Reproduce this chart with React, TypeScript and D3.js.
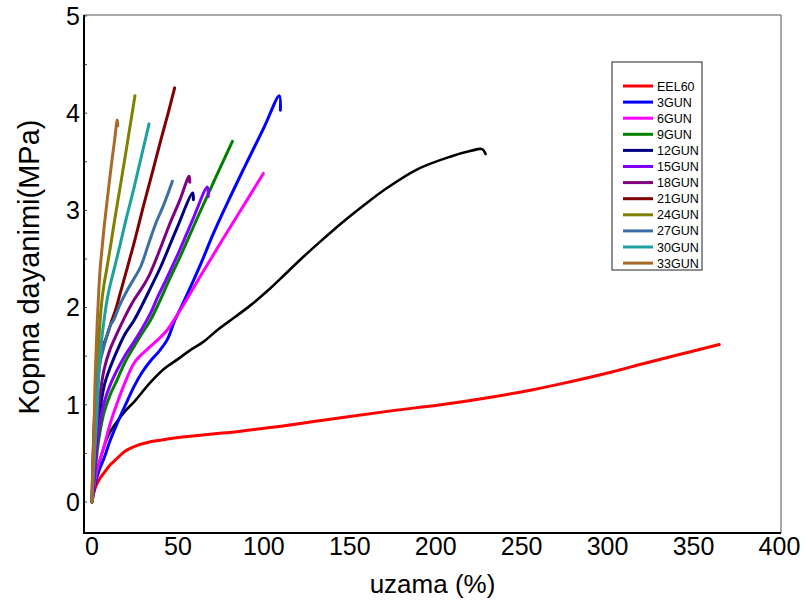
import React from "react";
import * as d3 from "d3";

type Pt = [number, number];

const xTicks = [0, 50, 100, 150, 200, 250, 300, 350, 400];
const yTicks = [0, 1, 2, 3, 4, 5];
const xTitle = "uzama (%)";
const yTitle = "Kopma dayanimi(MPa)";

const controlSeries: Pt[] = [[0,0],[0.8,0.1],[2.1,0.2],[4,0.38],[7,0.57],[10.5,0.72],[14.7,0.83],[19,0.93],[24.5,1.03],[34,1.23],[42,1.37],[50,1.47],[57,1.56],[65,1.65],[73,1.77],[83,1.9],[92,2.02],[102,2.17],[111,2.32],[121,2.49],[131,2.65],[146,2.88],[158,3.05],[170,3.21],[189,3.42],[208,3.55],[220,3.61],[227,3.63],[229,3.58]];

const eel60: Pt[] = [[0,0],[0.8,0.08],[2.2,0.16],[4.5,0.24],[7,0.3],[10.5,0.38],[14.7,0.45],[19,0.52],[24.5,0.57],[34,0.62],[45,0.65],[54,0.67],[70,0.7],[83,0.72],[92,0.74],[110,0.78],[130,0.83],[150,0.88],[175,0.94],[203,1.0],[233,1.08],[255,1.15],[274,1.22],[303,1.34],[320,1.42],[340,1.51],[365,1.62]];
const gun3: Pt[] = [[0,0],[0.8,0.08],[2,0.2],[4,0.32],[7,0.45],[10.5,0.63],[14.7,0.81],[19,0.98],[24.5,1.19],[29,1.33],[34,1.45],[39,1.55],[43.8,1.67],[48,1.86],[53.4,2.06],[63.3,2.45],[70.6,2.76],[79.4,3.1],[90,3.49],[100,3.85],[109,4.18],[109.6,4.03]];
const gun6: Pt[] = [[0,0],[0.8,0.1],[2,0.25],[4,0.4],[7,0.57],[10.5,0.8],[14.7,1.02],[19,1.22],[24.5,1.43],[29,1.52],[34,1.6],[39,1.68],[43.8,1.77],[48,1.88],[53.6,2.04],[64,2.35],[76,2.7],[90,3.1],[99.7,3.38]];
const gun9: Pt[] = [[0,0],[0.8,0.15],[2,0.35],[4,0.65],[7,0.92],[10.5,1.1],[14.7,1.26],[19,1.43],[24.5,1.6],[29,1.73],[34,1.87],[39,2.05],[44.8,2.28],[51.2,2.52],[62,2.95],[72,3.34],[81.7,3.71]];
const gun12: Pt[] = [[0,0],[0.8,0.2],[2,0.45],[4,0.85],[7,1.19],[10.5,1.38],[14.7,1.56],[19,1.72],[24.5,1.87],[29,2.02],[34,2.2],[40,2.42],[49,2.8],[58.6,3.18],[59,3.11]];
const gun15: Pt[] = [[0,0],[0.8,0.18],[2,0.4],[4,0.75],[7,1.02],[10.5,1.2],[14.7,1.36],[19,1.5],[24.5,1.65],[29,1.78],[34,1.94],[38,2.1],[42.9,2.28],[50,2.55],[58,2.88],[67.1,3.24],[67.6,3.14]];
const gun18: Pt[] = [[0,0],[0.8,0.25],[2,0.55],[4,1.0],[7,1.36],[10.5,1.57],[14.7,1.74],[19,1.9],[24.5,2.08],[29,2.2],[33.5,2.34],[40,2.62],[45,2.85],[51,3.1],[56.5,3.35],[56.9,3.29]];
const gun21: Pt[] = [[0,0],[0.5,0.4],[1.5,0.9],[3.1,1.29],[5,1.53],[7,1.63],[8.9,1.72],[11,1.84],[13.8,1.98],[16,2.12],[19.6,2.35],[25,2.7],[30,3.05],[35,3.38],[40,3.72],[44,3.98],[48.1,4.26]];
const gun24: Pt[] = [[0,0],[0.5,0.25],[1.5,0.6],[2.7,1.19],[4.1,1.7],[5,1.93],[6,2.11],[7.2,2.26],[8.5,2.39],[10.5,2.6],[13,2.88],[16,3.2],[19,3.52],[22,3.85],[25,4.18]];
const gun27: Pt[] = [[0,0],[0.5,0.35],[1.5,0.8],[3.1,1.19],[5,1.46],[7,1.6],[8.9,1.72],[10.8,1.82],[12.8,1.88],[16,2.02],[20.6,2.18],[24.5,2.3],[28.3,2.42],[33,2.66],[37,2.86],[42,3.07],[46.8,3.3]];
const gun30: Pt[] = [[0,0],[0.5,0.2],[1.5,0.5],[2.7,0.84],[4.1,1.36],[5.5,1.65],[7,1.87],[8.5,2.05],[9.9,2.18],[12.8,2.39],[16,2.62],[20,2.92],[24,3.2],[28,3.5],[33.2,3.89]];
const gun33: Pt[] = [[0,0],[0.3,0.25],[1,0.6],[1.7,1.19],[2.4,1.55],[3.1,1.87],[3.9,2.15],[4.7,2.39],[5.8,2.6],[7,2.82],[8.5,3.05],[10,3.28],[11.5,3.5],[13,3.7],[14.7,3.93],[15.0,3.87]];

const seriesNames = ["EEL60","3GUN","6GUN","9GUN","12GUN","15GUN","18GUN","21GUN","24GUN","27GUN","30GUN","33GUN"];
const seriesData = [eel60, gun3, gun6, gun9, gun12, gun15, gun18, gun21, gun24, gun27, gun30, gun33];
const seriesColors = ["#FF0000","#0000FF","#FF00FF","#008000","#000080","#8000FF","#800080","#800000","#808000","#3A6EA5","#1FA0A0","#A86A28"];

export default function App() {
  const W = 808, H = 607;
  const left = 84, right = 781, top = 15, bottom = 533;
  const x = d3.scaleLinear().domain([-4.65, 400.9]).range([left, right]);
  const y = d3.scaleLinear().domain([-0.319, 5.01]).range([bottom, top]);
  const line = d3.line<Pt>().x(d => x(d[0])).y(d => y(d[1])).curve(d3.curveCatmullRom.alpha(0.5));
  const font = "'Liberation Sans', Arial, sans-serif";
  const legX = 612, legY = 62, legW = 90, legH = 208;
  const legRow0 = 86, legStep = 16.1;
  const minorY = d3.range(0, 5.01, 0.5);

  return (
    <svg width={W} height={H} style={{ position: "absolute", left: 0, top: 0, background: "#fff" }} fontFamily={font}>
      <rect x={0} y={0} width={W} height={H} fill="#fff" />
      <line x1={left} y1={top} x2={right} y2={top} stroke="#555" strokeWidth={1} />
      <line x1={right} y1={top} x2={right} y2={bottom} stroke="#555" strokeWidth={1} />
      {minorY.map((v, i) => (
        <line key={"my" + i} x1={left} x2={left + 3} y1={y(v)} y2={y(v)} stroke="#444" strokeWidth={1} />
      ))}
      <path d={line(controlSeries) || ""} fill="none" stroke="#000" strokeWidth={2.6} strokeLinejoin="round" strokeLinecap="round" />
      {seriesData.map((s, i) => (
        <path key={seriesNames[i]} d={line(s) || ""} fill="none" stroke={seriesColors[i]} strokeWidth={3} strokeLinejoin="round" strokeLinecap="round" />
      ))}
      <line x1={left} y1={top} x2={left} y2={bottom + 1} stroke="#000" strokeWidth={2} />
      <line x1={left - 1} y1={bottom} x2={right} y2={bottom} stroke="#000" strokeWidth={2} />
      {xTicks.map(t => (
        <text key={"xt" + t} x={x(t)} y={555} fontSize={25} textAnchor="middle" fill="#000">{t}</text>
      ))}
      {yTicks.map(t => (
        <text key={"yt" + t} x={80} y={y(t)} dy="0.35em" fontSize={25} textAnchor="end" fill="#000">{t}</text>
      ))}
      <text x={(left + right) / 2} y={593} fontSize={26} textAnchor="middle" fill="#000">{xTitle}</text>
      <text transform={`translate(39, 267) rotate(-90)`} fontSize={29} textAnchor="middle" fill="#000">{yTitle}</text>
      <rect x={legX} y={legY} width={legW} height={legH} fill="#fff" stroke="#222" strokeWidth={1} />
      {seriesNames.map((n, i) => (
        <g key={"lg" + n}>
          <line x1={623} x2={653} y1={legRow0 + i * legStep} y2={legRow0 + i * legStep} stroke={seriesColors[i]} strokeWidth={3} />
          <text x={657} y={legRow0 + i * legStep} dy="0.36em" fontSize={12.5} fill="#000">{n}</text>
        </g>
      ))}
    </svg>
  );
}
